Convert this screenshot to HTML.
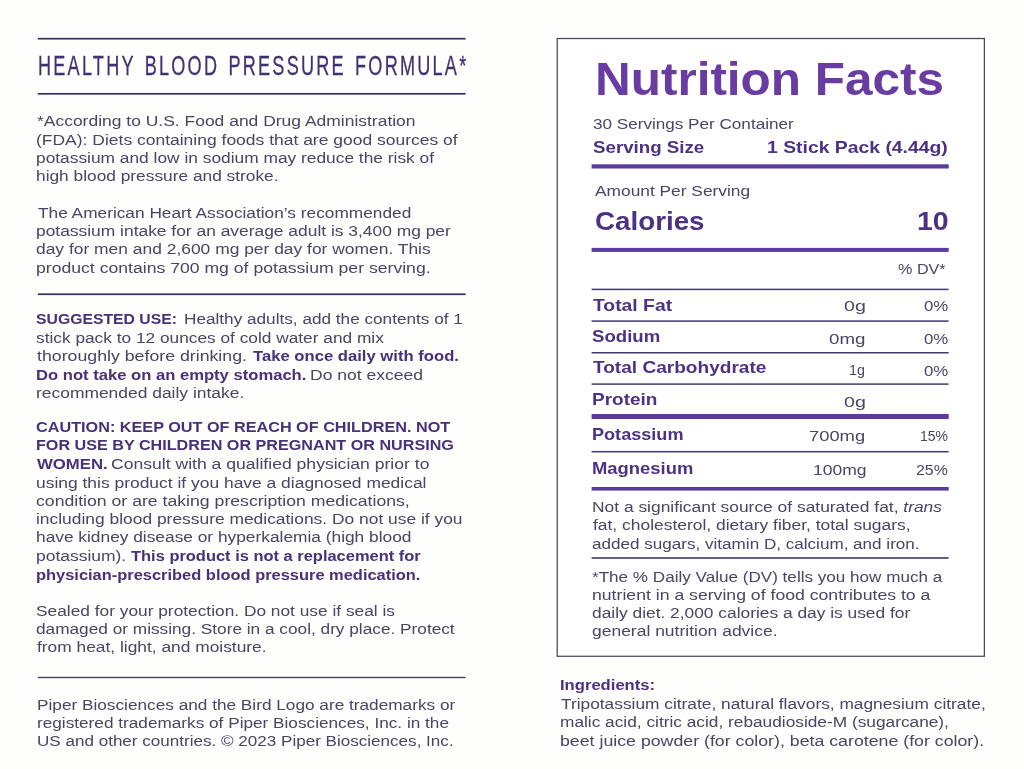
<!DOCTYPE html>
<html lang="en">
<head>
<meta charset="utf-8">
<title>Healthy Blood Pressure Formula – Nutrition Facts</title>
<style>
html,body{margin:0;padding:0}
body{width:1024px;height:769px;position:relative;overflow:hidden;background:#fefefc;font-family:"Liberation Sans", sans-serif;color:#4a4563}
.page{position:absolute;left:0;top:0;width:1024px;height:769px;will-change:transform}
.rules{position:absolute;left:0;top:0}
h1,h2,h3,p,section,header{margin:0;padding:0;font-size:inherit;font-weight:normal}
.ln{position:absolute;display:block;margin:0;white-space:nowrap;transform-origin:0 0;line-height:20px;height:20px;font-weight:normal}
.t{font-size:15.2px;color:#4a4563}
.t b{font-weight:bold;color:#46327a}
.t i{font-style:italic}
.hd{font-weight:normal;color:#403170}
.nf{font-weight:bold;color:#693ca2}
.lb{font-weight:bold;color:#4b3284}
.cal{font-weight:bold;color:#4b3284}
.ing{font-weight:bold;color:#4b3284}
.hd{-webkit-text-stroke:0.3px #403170}
</style>
</head>
<body>
<main class="page">
<svg class="rules" width="1024" height="769" viewBox="0 0 1024 769" aria-hidden="true">
<rect x="557.23" y="38.52" width="427.15" height="617.75" fill="#fff" stroke="#4a465c" stroke-width="1.25"/>
<rect x="37.8" y="37.85" width="427.80" height="1.70" fill="#3b2e64"/>
<rect x="37.8" y="92.95" width="427.80" height="1.70" fill="#3b2e64"/>
<rect x="37.8" y="293.4" width="427.80" height="1.70" fill="#3b2e64"/>
<rect x="37.8" y="676.8" width="427.80" height="1.40" fill="#474060"/>
<rect x="591.6" y="164.3" width="357.10" height="4.20" fill="#5a3a9c"/>
<rect x="591.6" y="247.9" width="357.10" height="4.00" fill="#5a3a9c"/>
<rect x="591.6" y="288.65" width="357.00" height="1.50" fill="#43366f"/>
<rect x="591.6" y="320.35" width="357.00" height="1.50" fill="#43366f"/>
<rect x="591.6" y="352.0" width="357.00" height="1.50" fill="#43366f"/>
<rect x="591.6" y="383.35" width="357.00" height="1.50" fill="#43366f"/>
<rect x="591.6" y="414.0" width="357.10" height="5.05" fill="#5a3a9c"/>
<rect x="591.6" y="450.95" width="357.00" height="1.50" fill="#43366f"/>
<rect x="591.6" y="487.0" width="357.10" height="3.60" fill="#5a3a9c"/>
<rect x="591.6" y="557.2" width="357.00" height="1.60" fill="#43366f"/>
</svg>
<header class="hdr">
<h1>
<span class="ln hd" style="left:38px;top:50px;font-size:27.4px;line-height:32px;height:32px;transform:scaleX(0.6600);letter-spacing:3.4px;word-spacing:3px">HEALTHY BLOOD PRESSURE FORMULA*</span>
</h1>
</header>
<section class="info">
<p>
<span class="ln t" style="left:37px;top:111px;transform:scaleX(1.1498)">*According to U.S. Food and Drug Administration</span>
<span class="ln t" style="left:36px;top:130px;transform:scaleX(1.1508)">(FDA): Diets containing foods that are good sources of</span>
<span class="ln t" style="left:36px;top:148px;transform:scaleX(1.1416)">potassium and low in sodium may reduce the risk of</span>
<span class="ln t" style="left:36px;top:166px;transform:scaleX(1.1400)">high blood pressure and stroke.</span>
</p>
<p>
<span class="ln t" style="left:38px;top:203px;transform:scaleX(1.1376)">The American Heart Association’s recommended</span>
<span class="ln t" style="left:36px;top:221px;transform:scaleX(1.1453)">potassium intake for an average adult is 3,400 mg per</span>
<span class="ln t" style="left:36px;top:239px;transform:scaleX(1.1468)">day for men and 2,600 mg per day for women. This</span>
<span class="ln t" style="left:36px;top:258px;transform:scaleX(1.1599)">product contains 700 mg of potassium per serving.</span>
</p>
<p>
<span class="ln t" style="left:36px;top:309px;transform:scaleX(1.0375)"><b>SUGGESTED USE:</b></span>
<span class="ln t" style="left:184px;top:309px;transform:scaleX(1.1310)">Healthy adults, add the contents of 1</span>
<span class="ln t" style="left:36px;top:328px;transform:scaleX(1.1382)">stick pack to 12 ounces of cold water and mix</span>
<span class="ln t" style="left:37px;top:346px;transform:scaleX(1.1675)">thoroughly before drinking.</span>
<span class="ln t" style="left:253px;top:346px;transform:scaleX(1.0960)"><b>Take once daily with food.</b></span>
<span class="ln t" style="left:36px;top:365px;transform:scaleX(1.0935)"><b>Do not take on an empty stomach.</b></span>
<span class="ln t" style="left:310px;top:365px;transform:scaleX(1.1543)">Do not exceed</span>
<span class="ln t" style="left:36px;top:383px;transform:scaleX(1.1472)">recommended daily intake.</span>
</p>
<p>
<span class="ln t" style="left:36px;top:417px;transform:scaleX(1.0679)"><b>CAUTION: KEEP OUT OF REACH OF CHILDREN. NOT</b></span>
<span class="ln t" style="left:36px;top:435px;transform:scaleX(1.0635)"><b>FOR USE BY CHILDREN OR PREGNANT OR NURSING</b></span>
<span class="ln t" style="left:37px;top:454px;transform:scaleX(1.1031)"><b>WOMEN.</b></span>
<span class="ln t" style="left:111px;top:454px;transform:scaleX(1.1570)">Consult with a qualified physician prior to</span>
<span class="ln t" style="left:36px;top:473px;transform:scaleX(1.1476)">using this product if you have a diagnosed medical</span>
<span class="ln t" style="left:36px;top:491px;transform:scaleX(1.1621)">condition or are taking prescription medications,</span>
<span class="ln t" style="left:36px;top:509px;transform:scaleX(1.1456)">including blood pressure medications. Do not use if you</span>
<span class="ln t" style="left:36px;top:527px;transform:scaleX(1.1402)">have kidney disease or hyperkalemia (high blood</span>
<span class="ln t" style="left:36px;top:546px;transform:scaleX(1.1492)">potassium).</span>
<span class="ln t" style="left:131px;top:546px;transform:scaleX(1.0829)"><b>This product is not a replacement for</b></span>
<span class="ln t" style="left:36px;top:565px;transform:scaleX(1.0819)"><b>physician-prescribed blood pressure medication.</b></span>
</p>
<p>
<span class="ln t" style="left:36px;top:601px;transform:scaleX(1.1401)">Sealed for your protection. Do not use if seal is</span>
<span class="ln t" style="left:36px;top:619px;transform:scaleX(1.1349)">damaged or missing. Store in a cool, dry place. Protect</span>
<span class="ln t" style="left:37px;top:637px;transform:scaleX(1.1426)">from heat, light, and moisture.</span>
</p>
</section>
<section class="legal">
<p>
<span class="ln t" style="left:37px;top:695px;transform:scaleX(1.1337)">Piper Biosciences and the Bird Logo are trademarks or</span>
<span class="ln t" style="left:37px;top:713px;transform:scaleX(1.1323)">registered trademarks of Piper Biosciences, Inc. in the</span>
<span class="ln t" style="left:37px;top:731px;transform:scaleX(1.1235)">US and other countries. © 2023 Piper Biosciences, Inc.</span>
</p>
</section>
<section class="facts">
<h2>
<span class="ln nf" style="left:595px;top:51px;font-size:46.96px;line-height:56px;height:56px;transform:scaleX(1.0533)">Nutrition Facts</span>
</h2>
<p>
<span class="ln t" style="left:593px;top:114px;transform:scaleX(1.1266)">30 Servings Per Container</span>
</p>
<div class="row">
<span class="ln lb" style="left:593px;top:138px;font-size:16.81px;line-height:20px;height:20px;transform:scaleX(1.1138)">Serving Size</span>
<span class="ln lb" style="left:767px;top:138px;font-size:16.81px;line-height:20px;height:20px;transform:scaleX(1.1526)">1 Stick Pack (4.44g)</span>
</div>
<p>
<span class="ln t" style="left:595px;top:181px;transform:scaleX(1.1413)">Amount Per Serving</span>
</p>
<div class="row">
<span class="ln cal" style="left:595px;top:206px;font-size:26.09px;line-height:31px;height:31px;transform:scaleX(1.0644)">Calories</span>
<span class="ln cal" style="left:917px;top:206px;font-size:26.09px;line-height:31px;height:31px;transform:scaleX(1.0945)">10</span>
</div>
<div class="row">
<span class="ln t" style="left:898px;top:259px;transform:scaleX(1.0652)">% DV*</span>
</div>
<div class="row">
<span class="ln lb" style="left:593px;top:296px;font-size:16.96px;line-height:20px;height:20px;transform:scaleX(1.1407)">Total Fat</span>
<span class="ln t" style="left:844px;top:296px;transform:scaleX(1.2947)">0g</span>
<span class="ln t" style="left:924px;top:296px;transform:scaleX(1.1073)">0%</span>
</div>
<div class="row">
<span class="ln lb" style="left:592px;top:327px;font-size:16.96px;line-height:20px;height:20px;transform:scaleX(1.0984)">Sodium</span>
<span class="ln t" style="left:829px;top:329px;transform:scaleX(1.2327)">0mg</span>
<span class="ln t" style="left:924px;top:329px;transform:scaleX(1.1073)">0%</span>
</div>
<div class="row">
<span class="ln lb" style="left:593px;top:358px;font-size:16.96px;line-height:20px;height:20px;transform:scaleX(1.1255)">Total Carbohydrate</span>
<span class="ln t" style="left:849px;top:360px;transform:scaleX(0.9459)">1g</span>
<span class="ln t" style="left:924px;top:361px;transform:scaleX(1.1073)">0%</span>
</div>
<div class="row">
<span class="ln lb" style="left:592px;top:390px;font-size:16.96px;line-height:20px;height:20px;transform:scaleX(1.1211)">Protein</span>
<span class="ln t" style="left:844px;top:392px;transform:scaleX(1.2947)">0g</span>
</div>
<div class="row">
<span class="ln lb" style="left:592px;top:425px;font-size:16.96px;line-height:20px;height:20px;transform:scaleX(1.0678)">Potassium</span>
<span class="ln t" style="left:809px;top:426px;transform:scaleX(1.2083)">700mg</span>
<span class="ln t" style="left:920px;top:426px;transform:scaleX(0.9200)">15%</span>
</div>
<div class="row">
<span class="ln lb" style="left:592px;top:459px;font-size:16.96px;line-height:20px;height:20px;transform:scaleX(1.0870)">Magnesium</span>
<span class="ln t" style="left:813px;top:460px;transform:scaleX(1.1527)">100mg</span>
<span class="ln t" style="left:916px;top:460px;transform:scaleX(1.0443)">25%</span>
</div>
<p>
<span class="ln t" style="left:592px;top:497px;transform:scaleX(1.1452)">Not a significant source of saturated fat, <i>trans</i></span>
<span class="ln t" style="left:593px;top:515px;transform:scaleX(1.1469)">fat, cholesterol, dietary fiber, total sugars,</span>
<span class="ln t" style="left:592px;top:534px;transform:scaleX(1.1249)">added sugars, vitamin D, calcium, and iron.</span>
</p>
<p>
<span class="ln t" style="left:592px;top:567px;transform:scaleX(1.1255)">*The % Daily Value (DV) tells you how much a</span>
<span class="ln t" style="left:592px;top:585px;transform:scaleX(1.1616)">nutrient in a serving of food contributes to a</span>
<span class="ln t" style="left:592px;top:603px;transform:scaleX(1.1422)">daily diet. 2,000 calories a day is used for</span>
<span class="ln t" style="left:592px;top:621px;transform:scaleX(1.1506)">general nutrition advice.</span>
</p>
</section>
<section class="ingredients">
<h3>
<span class="ln ing" style="left:560px;top:675px;font-size:15.22px;line-height:20px;height:20px;transform:scaleX(1.0916)">Ingredients:</span>
</h3>
<p>
<span class="ln t" style="left:561px;top:694px;transform:scaleX(1.1401)">Tripotassium citrate, natural flavors, magnesium citrate,</span>
<span class="ln t" style="left:560px;top:712px;transform:scaleX(1.1377)">malic acid, citric acid, rebaudioside-M (sugarcane),</span>
<span class="ln t" style="left:560px;top:731px;transform:scaleX(1.1683)">beet juice powder (for color), beta carotene (for color).</span>
</p>
</section>
</main>
</body>
</html>
